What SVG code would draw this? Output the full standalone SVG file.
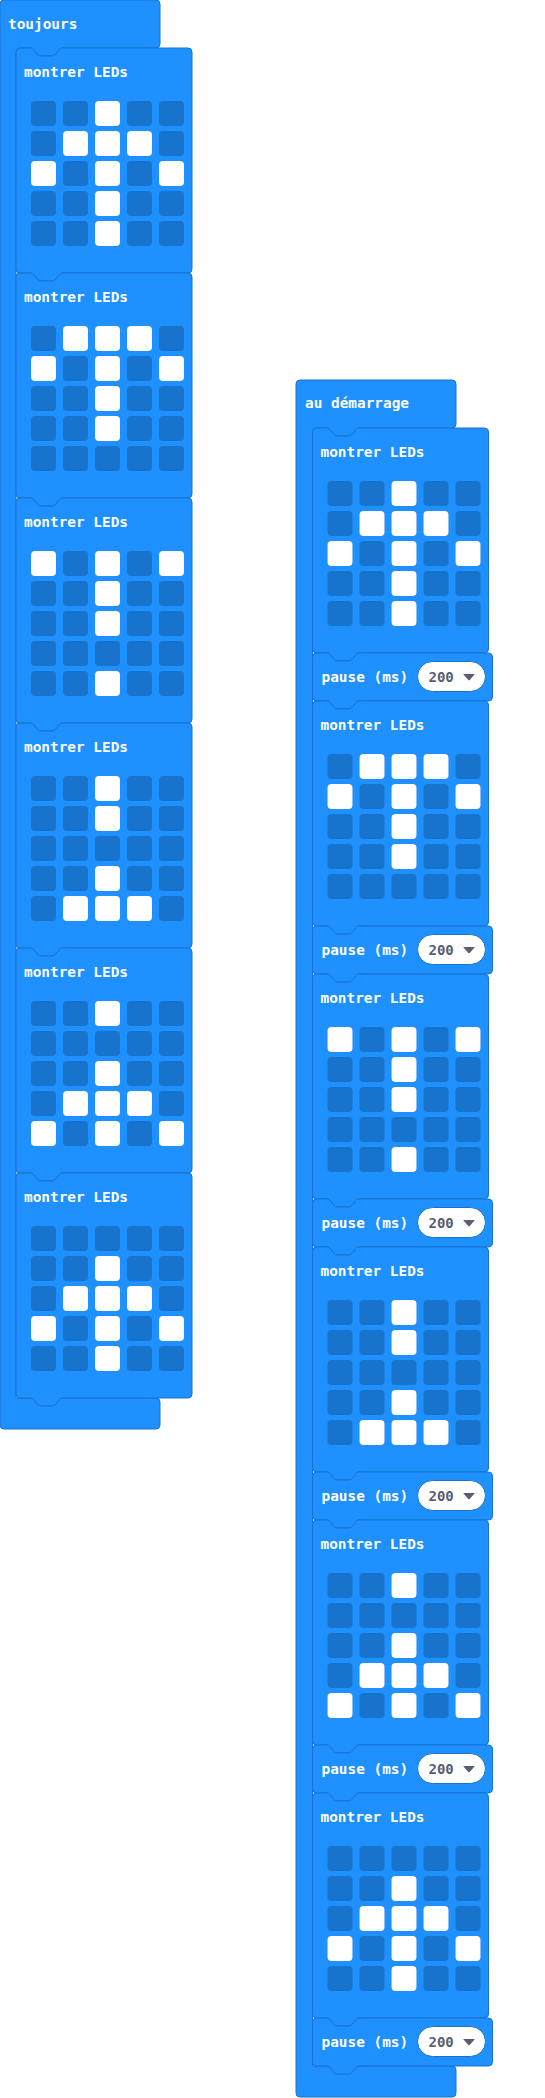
<svg xmlns="http://www.w3.org/2000/svg" xmlns:xlink="http://www.w3.org/1999/xlink" width="545" height="2098" viewBox="0 0 545 2098">
<style>
.blk{fill:#1E90FF;stroke:#1873CC;stroke-width:1}
.off{fill:#1873CC}
.on{fill:#FFFFFF}
.lbl{font-family:"DejaVu Sans Mono","Liberation Mono",monospace;font-weight:bold;font-size:14.4px;fill:#FFFFFF}
.num{font-family:"DejaVu Sans Mono","Liberation Mono",monospace;font-weight:bold;font-size:14px;fill:#575E75}
.pill{fill:#FFFFFF;stroke:#1873CC;stroke-width:1}
.tri{fill:#575E75}
</style>
<defs>
<path id="showShape" d="M0,4 Q0,0 4,0 H14 C16,0 17,1 18,2 L21,6 C22,7 23,8 25,8 H36 C38,8 39,7 40,6 L43,2 C44,1 45,0 47,0 H172 Q176,0 176,4 V221 Q176,225 172,225 H47 C45,225 44,226 43,227 L40,231 C39,232 38,233 36,233 H25 C23,233 22,232 21,231 L18,227 C17,226 16,225 14,225 H4 Q0,225 0,221 Z"/>
<path id="pauseShape" d="M0,4 Q0,0 4,0 H14 C16,0 17,1 18,2 L21,6 C22,7 23,8 25,8 H36 C38,8 39,7 40,6 L43,2 C44,1 45,0 47,0 H176 Q180,0 180,4 V44 Q180,48 176,48 H47 C45,48 44,49 43,50 L40,54 C39,55 38,56 36,56 H25 C23,56 22,55 21,54 L18,50 C17,49 16,48 14,48 H4 Q0,48 0,44 Z"/>
<g id="grid">
<rect class="off" x="15" y="53" width="25" height="25" rx="4"/><rect class="off" x="47" y="53" width="25" height="25" rx="4"/><rect class="off" x="79" y="53" width="25" height="25" rx="4"/><rect class="off" x="111" y="53" width="25" height="25" rx="4"/><rect class="off" x="143" y="53" width="25" height="25" rx="4"/>
<rect class="off" x="15" y="83" width="25" height="25" rx="4"/><rect class="off" x="47" y="83" width="25" height="25" rx="4"/><rect class="off" x="79" y="83" width="25" height="25" rx="4"/><rect class="off" x="111" y="83" width="25" height="25" rx="4"/><rect class="off" x="143" y="83" width="25" height="25" rx="4"/>
<rect class="off" x="15" y="113" width="25" height="25" rx="4"/><rect class="off" x="47" y="113" width="25" height="25" rx="4"/><rect class="off" x="79" y="113" width="25" height="25" rx="4"/><rect class="off" x="111" y="113" width="25" height="25" rx="4"/><rect class="off" x="143" y="113" width="25" height="25" rx="4"/>
<rect class="off" x="15" y="143" width="25" height="25" rx="4"/><rect class="off" x="47" y="143" width="25" height="25" rx="4"/><rect class="off" x="79" y="143" width="25" height="25" rx="4"/><rect class="off" x="111" y="143" width="25" height="25" rx="4"/><rect class="off" x="143" y="143" width="25" height="25" rx="4"/>
<rect class="off" x="15" y="173" width="25" height="25" rx="4"/><rect class="off" x="47" y="173" width="25" height="25" rx="4"/><rect class="off" x="79" y="173" width="25" height="25" rx="4"/><rect class="off" x="111" y="173" width="25" height="25" rx="4"/><rect class="off" x="143" y="173" width="25" height="25" rx="4"/>
</g>
<g id="f1"><use xlink:href="#showShape" class="blk"/><text class="lbl" x="8" y="29">montrer LEDs</text><use xlink:href="#grid"/>
<rect class="on" x="79" y="53" width="25" height="25" rx="4"/>
<rect class="on" x="47" y="83" width="25" height="25" rx="4"/><rect class="on" x="79" y="83" width="25" height="25" rx="4"/><rect class="on" x="111" y="83" width="25" height="25" rx="4"/>
<rect class="on" x="15" y="113" width="25" height="25" rx="4"/><rect class="on" x="79" y="113" width="25" height="25" rx="4"/><rect class="on" x="143" y="113" width="25" height="25" rx="4"/>
<rect class="on" x="79" y="143" width="25" height="25" rx="4"/>
<rect class="on" x="79" y="173" width="25" height="25" rx="4"/>
</g>
<g id="f2"><use xlink:href="#showShape" class="blk"/><text class="lbl" x="8" y="29">montrer LEDs</text><use xlink:href="#grid"/>
<rect class="on" x="47" y="53" width="25" height="25" rx="4"/><rect class="on" x="79" y="53" width="25" height="25" rx="4"/><rect class="on" x="111" y="53" width="25" height="25" rx="4"/>
<rect class="on" x="15" y="83" width="25" height="25" rx="4"/><rect class="on" x="79" y="83" width="25" height="25" rx="4"/><rect class="on" x="143" y="83" width="25" height="25" rx="4"/>
<rect class="on" x="79" y="113" width="25" height="25" rx="4"/>
<rect class="on" x="79" y="143" width="25" height="25" rx="4"/>
</g>
<g id="f3"><use xlink:href="#showShape" class="blk"/><text class="lbl" x="8" y="29">montrer LEDs</text><use xlink:href="#grid"/>
<rect class="on" x="15" y="53" width="25" height="25" rx="4"/><rect class="on" x="79" y="53" width="25" height="25" rx="4"/><rect class="on" x="143" y="53" width="25" height="25" rx="4"/>
<rect class="on" x="79" y="83" width="25" height="25" rx="4"/>
<rect class="on" x="79" y="113" width="25" height="25" rx="4"/>
<rect class="on" x="79" y="173" width="25" height="25" rx="4"/>
</g>
<g id="f4"><use xlink:href="#showShape" class="blk"/><text class="lbl" x="8" y="29">montrer LEDs</text><use xlink:href="#grid"/>
<rect class="on" x="79" y="53" width="25" height="25" rx="4"/>
<rect class="on" x="79" y="83" width="25" height="25" rx="4"/>
<rect class="on" x="79" y="143" width="25" height="25" rx="4"/>
<rect class="on" x="47" y="173" width="25" height="25" rx="4"/><rect class="on" x="79" y="173" width="25" height="25" rx="4"/><rect class="on" x="111" y="173" width="25" height="25" rx="4"/>
</g>
<g id="f5"><use xlink:href="#showShape" class="blk"/><text class="lbl" x="8" y="29">montrer LEDs</text><use xlink:href="#grid"/>
<rect class="on" x="79" y="53" width="25" height="25" rx="4"/>
<rect class="on" x="79" y="113" width="25" height="25" rx="4"/>
<rect class="on" x="47" y="143" width="25" height="25" rx="4"/><rect class="on" x="79" y="143" width="25" height="25" rx="4"/><rect class="on" x="111" y="143" width="25" height="25" rx="4"/>
<rect class="on" x="15" y="173" width="25" height="25" rx="4"/><rect class="on" x="79" y="173" width="25" height="25" rx="4"/><rect class="on" x="143" y="173" width="25" height="25" rx="4"/>
</g>
<g id="f6"><use xlink:href="#showShape" class="blk"/><text class="lbl" x="8" y="29">montrer LEDs</text><use xlink:href="#grid"/>
<rect class="on" x="79" y="83" width="25" height="25" rx="4"/>
<rect class="on" x="47" y="113" width="25" height="25" rx="4"/><rect class="on" x="79" y="113" width="25" height="25" rx="4"/><rect class="on" x="111" y="113" width="25" height="25" rx="4"/>
<rect class="on" x="15" y="143" width="25" height="25" rx="4"/><rect class="on" x="79" y="143" width="25" height="25" rx="4"/><rect class="on" x="143" y="143" width="25" height="25" rx="4"/>
<rect class="on" x="79" y="173" width="25" height="25" rx="4"/>
</g>
<g id="pauseTpl"><use xlink:href="#pauseShape" class="blk"/><text class="lbl" x="9" y="29">pause (ms)</text>
<rect class="pill" x="105" y="8.5" width="68" height="30" rx="15"/>
<text class="num" x="116" y="28.5">200</text>
<path class="tri" d="M151,21 H162 Q162.5,21 162,21.6 L157.2,27 Q156.5,27.7 155.8,27 L151,21.6 Q150.5,21 151,21 Z"/>
</g>
</defs>

<g id="connectors"></g>

<g id="toujours">
<path class="blk" d="M0,4 Q0,0 4,0 H156 Q160,0 160,4 V44 Q160,48 156,48 H63 C61,48 60,49 59,50 L56,54 C55,55 54,56 52,56 H41 C39,56 38,55 37,54 L34,50 C33,49 32,48 30,48 H20 Q16,48 16,52 V1398 H156 Q160,1398 160,1402 V1425 Q160,1429 156,1429 H4 Q0,1429 0,1425 Z"/>
<text class="lbl" x="8" y="29">toujours</text>
</g>
<g id="forever-show1" transform="translate(16,48)"><use xlink:href="#f1"/></g>
<g id="forever-show2" transform="translate(16,273)"><use xlink:href="#f2"/></g>
<g id="forever-show3" transform="translate(16,498)"><use xlink:href="#f3"/></g>
<g id="forever-show4" transform="translate(16,723)"><use xlink:href="#f4"/></g>
<g id="forever-show5" transform="translate(16,948)"><use xlink:href="#f5"/></g>
<g id="forever-show6" transform="translate(16,1173)"><use xlink:href="#f6"/></g>

<g id="au-demarrage">
<path class="blk" d="M296,384 Q296,380 300,380 H452 Q456,380 456,384 V424 Q456,428 452,428 H359.5 C357.5,428 356.5,429 355.5,430 L352.5,434 C351.5,435 350.5,436 348.5,436 H337.5 C335.5,436 334.5,435 333.5,434 L330.5,430 C329.5,429 328.5,428 326.5,428 H316.5 Q312.5,428 312.5,432 V2066 H452 Q456,2066 456,2070 V2093 Q456,2097 452,2097 H300 Q296,2097 296,2093 Z"/>
<text class="lbl" x="305" y="408">au démarrage</text>
</g>
<g id="start-show1" transform="translate(312.5,428)"><use xlink:href="#f1"/></g>
<g id="start-pause1" transform="translate(312.5,653)"><use xlink:href="#pauseTpl"/></g>
<g id="start-show2" transform="translate(312.5,701)"><use xlink:href="#f2"/></g>
<g id="start-pause2" transform="translate(312.5,926)"><use xlink:href="#pauseTpl"/></g>
<g id="start-show3" transform="translate(312.5,974)"><use xlink:href="#f3"/></g>
<g id="start-pause3" transform="translate(312.5,1199)"><use xlink:href="#pauseTpl"/></g>
<g id="start-show4" transform="translate(312.5,1247)"><use xlink:href="#f4"/></g>
<g id="start-pause4" transform="translate(312.5,1472)"><use xlink:href="#pauseTpl"/></g>
<g id="start-show5" transform="translate(312.5,1520)"><use xlink:href="#f5"/></g>
<g id="start-pause5" transform="translate(312.5,1745)"><use xlink:href="#pauseTpl"/></g>
<g id="start-show6" transform="translate(312.5,1793)"><use xlink:href="#f6"/></g>
<g id="start-pause6" transform="translate(312.5,2018)"><use xlink:href="#pauseTpl"/></g>
</svg>
